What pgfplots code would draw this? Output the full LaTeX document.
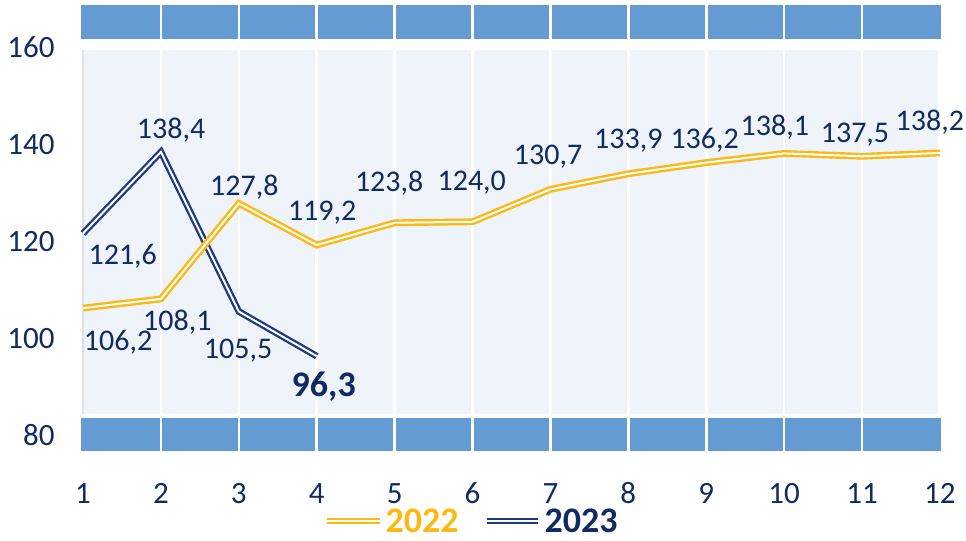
\documentclass[border=0pt]{standalone}
\usepackage{pgfplots}
\pgfplotsset{compat=1.18}
\usepackage{fontspec}
\setmainfont{Carlito}
\definecolor{navyt}{HTML}{112B62}
\definecolor{navyl}{HTML}{1F3A80}
\definecolor{orl}{HTML}{FDB913}
\definecolor{bandb}{HTML}{659BD3}
\definecolor{lightbg}{HTML}{EFF3FA}
\definecolor{edgegray}{HTML}{DDE2EA}
\pgfplotstableread{
x y
1 106.2
2 108.1
3 127.8
4 119.2
5 123.8
6 124.0
7 130.7
8 133.9
9 136.2
10 138.1
11 137.5
12 138.2
}\tabA
\pgfplotstableread{
x y
1 121.6
2 138.4
3 105.5
4 96.3
}\tabB
\begin{document}
\begin{tikzpicture}
\begin{axis}[
  x=38.95pt, y=2.425pt,
  xmin=0.974, xmax=12.013, ymin=76.7, ymax=168.7,
  clip=false,
  axis line style={draw=none},
  major tick style={draw=none},
  xtick={1,...,12},
  ytick={80,100,120,140,160},
  tick label style={font=\fontsize{15.5}{15.5}\selectfont, text=navyt},
  /pgf/number format/assume math mode=true,
  yticklabel style={anchor=east, inner sep=0pt, xshift=-13pt},
  xticklabel style={anchor=center, inner sep=0pt, yshift=-21pt},
]
% background and bands
\fill[lightbg] (axis cs:1,84.3) rectangle (axis cs:11.976,159.4);
\fill[bandb] (axis cs:0.974,161.65) rectangle (axis cs:12.013,168.7);
\fill[bandb] (axis cs:0.974,76.7) rectangle (axis cs:12.013,83.5);
\draw[edgegray, line width=1pt] (axis cs:1.006,84.3) -- (axis cs:1.006,159.4);
\draw[white, line width=1.3pt] (axis cs:2,76.7) -- (axis cs:2,168.7);
\draw[white, line width=1.3pt] (axis cs:3,76.7) -- (axis cs:3,168.7);
\draw[white, line width=1.3pt] (axis cs:4,76.7) -- (axis cs:4,168.7);
\draw[white, line width=1.3pt] (axis cs:5,76.7) -- (axis cs:5,168.7);
\draw[white, line width=1.3pt] (axis cs:6,76.7) -- (axis cs:6,168.7);
\draw[white, line width=1.3pt] (axis cs:7,76.7) -- (axis cs:7,168.7);
\draw[white, line width=1.3pt] (axis cs:8,76.7) -- (axis cs:8,168.7);
\draw[white, line width=1.3pt] (axis cs:9,76.7) -- (axis cs:9,168.7);
\draw[white, line width=1.3pt] (axis cs:10,76.7) -- (axis cs:10,168.7);
\draw[white, line width=1.3pt] (axis cs:11,76.7) -- (axis cs:11,168.7);
% series
\addplot[draw=navyl, line width=1.15pt, double=white, double distance=1pt, mark=none] table[x=x,y=y] {\tabB};
\addplot[draw=orl, line width=1.2pt, double=white, double distance=1pt, mark=none] table[x=x,y=y] {\tabA};
% data labels 2022
\begin{scope}[every node/.style={font=\fontsize{15}{15}\selectfont, text=navyt, inner sep=0pt}]
\node at (axis cs:1.45,99.2) {106,2};
\node at (axis cs:2.21,103.3) {108,1};
\node at (axis cs:3.07,131.1) {127,8};
\node at (axis cs:4.07,125.8) {119,2};
\node at (axis cs:4.93,132.0) {123,8};
\node at (axis cs:5.99,132.0) {124,0};
\node at (axis cs:6.97,137.5) {130,7};
\node at (axis cs:8.0,140.8) {133,9};
\node at (axis cs:8.98,140.8) {136,2};
\node at (axis cs:9.88,143.5) {138,1};
\node at (axis cs:10.91,141.9) {137,5};
\node at (axis cs:11.87,144.5) {138,2};
% data labels 2023
\node at (axis cs:1.51,116.9) {121,6};
\node at (axis cs:2.13,142.9) {138,4};
\node at (axis cs:2.99,97.5) {105,5};
\node[font=\fontsize{18}{18}\selectfont\bfseries] at (axis cs:4.09,90.1) {96,3};
\end{scope}
% legend
\draw[orl, line width=0.9pt, double=white, double distance=0.9pt] (axis cs:4.13,62.3) -- (axis cs:4.81,62.3);
\node[anchor=west, inner sep=0pt, font=\fontsize{18}{18}\selectfont\bfseries, text=orl] at (axis cs:4.88,62.3) {2022};
\draw[navyl, line width=0.9pt, double=white, double distance=0.9pt] (axis cs:6.19,62.3) -- (axis cs:6.84,62.3);
\node[anchor=west, inner sep=0pt, font=\fontsize{18}{18}\selectfont\bfseries, text=navyt] at (axis cs:6.92,62.3) {2023};
\coordinate (TL) at (axis cs:0.974,168.7);
\end{axis}
\pgfresetboundingbox
\path[use as bounding box] ([shift={(-40.5pt,2.5pt)}]TL) rectangle ++(483pt,-270.5pt);
\end{tikzpicture}
\end{document}
